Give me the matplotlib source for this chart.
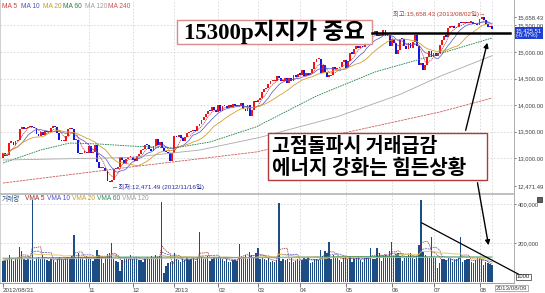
import matplotlib
matplotlib.use("Agg")
import matplotlib.pyplot as plt
import numpy as np
import pandas as pd
from matplotlib.patches import Rectangle, FancyArrowPatch
from matplotlib.lines import Line2D

plt.rcParams["font.family"] = ["Liberation Sans", "Noto Sans CJK KR"]

# daily closes, 2012/08/31 .. 2013/08/09 (one line per month)
close = [
    13091,
    13036, 13048, 13292, 13307, 13254, 13324, 13333, 13540, 13593, 13553, 13565, 13578, 13597, 13579, 13559, 13458, 13414, 13486, 13437,
    13515, 13482, 13495, 13575, 13610, 13584, 13474, 13345, 13327, 13329, 13424, 13551, 13558, 13548, 13344, 13346, 13103, 13078, 13104, 13107, 13096,
    13232, 13093, 13112, 13245, 12932, 12811, 12815, 12815, 12756, 12570, 12542, 12588, 12795, 12788, 12836, 13010, 12967, 12878, 12985, 13022, 13025,
    12965, 12951, 13034, 13074, 13155, 13169, 13248, 13245, 13171, 13135, 13235, 13351, 13251, 13311, 13190, 13139, 13114, 13096, 12938, 13104,
    13412, 13391, 13435, 13384, 13329, 13391, 13471, 13488, 13507, 13535, 13511, 13596, 13650, 13712, 13779, 13825, 13896, 13882, 13954, 13910, 13861,
    14009, 13880, 13979, 13986, 13944, 13993, 13971, 14019, 13982, 13973, 13981, 14035, 13927, 13880, 14000, 13784, 13900, 14075, 14054,
    14090, 14128, 14254, 14296, 14329, 14397, 14448, 14450, 14455, 14539, 14515, 14452, 14456, 14512, 14421, 14512, 14448, 14560, 14527, 14579,
    14573, 14662, 14551, 14606, 14565, 14613, 14673, 14802, 14865, 14865, 14599, 14757, 14619, 14537, 14548, 14567, 14719, 14676, 14701, 14712, 14818, 14840,
    14700, 14831, 14974, 14969, 15056, 15105, 15083, 15118, 15091, 15216, 15275, 15233, 15354, 15335, 15388, 15308, 15295, 15303, 15409, 15302, 15324, 15116,
    15254, 15177, 14961, 15041, 15248, 15239, 15122, 15050, 15176, 15071, 15180, 15318, 15112, 14758, 14800, 14660, 14760, 14910, 15024, 14910,
    14975, 14932, 14988, 15136, 15225, 15300, 15291, 15460, 15464, 15485, 15452, 15471, 15548, 15543, 15545, 15568, 15543, 15556, 15559, 15521, 15520, 15500,
    15628, 15658, 15612, 15519, 15471, 15498, 15426,
]

open_ = [
    13001,
    13091, 13036, 13048, 13292, 13307, 13254, 13324, 13333, 13540, 13593, 13553, 13565, 13578, 13597, 13579, 13559, 13458, 13414, 13486,
    13437, 13515, 13482, 13495, 13575, 13610, 13584, 13474, 13345, 13327, 13329, 13424, 13551, 13558, 13548, 13344, 13346, 13103, 13078, 13104, 13107,
    13096, 13232, 13093, 13112, 13245, 12932, 12811, 12815, 12815, 12756, 12570, 12542, 12588, 12795, 12788, 12836, 13010, 12967, 12878, 12985, 13022,
    13025, 12965, 12951, 13034, 13074, 13155, 13169, 13248, 13245, 13171, 13135, 13235, 13351, 13251, 13311, 13190, 13139, 13114, 13096, 12938,
    13104, 13412, 13391, 13435, 13384, 13329, 13391, 13471, 13488, 13507, 13535, 13511, 13596, 13650, 13712, 13779, 13825, 13896, 13882, 13954, 13910,
    13861, 14009, 13880, 13979, 13986, 13944, 13993, 13971, 14019, 13982, 13973, 13981, 14035, 13927, 13880, 14000, 13784, 13900, 14075,
    14054, 14090, 14128, 14254, 14296, 14329, 14397, 14448, 14450, 14455, 14539, 14515, 14452, 14456, 14512, 14421, 14512, 14448, 14560, 14527,
    14579, 14573, 14662, 14551, 14606, 14565, 14613, 14673, 14802, 14865, 14865, 14599, 14757, 14619, 14537, 14548, 14567, 14719, 14676, 14701, 14712, 14818,
    14840, 14700, 14831, 14974, 14969, 15056, 15105, 15083, 15118, 15091, 15216, 15275, 15233, 15354, 15335, 15388, 15308, 15295, 15303, 15409, 15302, 15324,
    15116, 15254, 15177, 14961, 15041, 15248, 15239, 15122, 15050, 15176, 15071, 15180, 15318, 15112, 14758, 14800, 14660, 14760, 14910, 15024,
    14910, 14975, 14932, 14988, 15136, 15225, 15300, 15291, 15460, 15464, 15485, 15452, 15471, 15548, 15543, 15545, 15568, 15543, 15556, 15559, 15521, 15520,
    15500, 15628, 15658, 15612, 15519, 15471, 15498,
]

# volume in thousands
volume_k = [
    110,
    115, 120, 138, 125, 110, 118, 122, 178, 160, 118, 112, 120, 115, 420, 108, 125, 130, 118, 140,
    118, 112, 110, 120, 115, 105, 120, 128, 118, 112, 125, 130, 120, 135, 240, 118, 150, 130, 125, 112, 135,
    125, 120, 110, 118, 165, 140, 130, 95, 128, 145, 150, 200, 118, 110, 105, 55, 115, 125, 130, 118, 140,
    118, 125, 130, 115, 112, 100, 125, 128, 120, 135, 120, 140, 128, 135, 410, 45, 80, 95, 100, 110,
    150, 120, 115, 100, 118, 112, 125, 115, 118, 122, 110, 128, 255, 130, 118, 125, 135, 110, 120, 130, 125,
    128, 122, 118, 110, 120, 105, 100, 112, 115, 108, 195, 118, 130, 140, 118, 155, 140, 125, 150,
    175, 118, 125, 120, 112, 122, 105, 110, 100, 115, 405, 110, 120, 112, 118, 105, 125, 100, 110, 118,
    110, 115, 125, 118, 130, 95, 105, 118, 120, 112, 165, 135, 160, 150, 205, 118, 140, 125, 122, 115, 105, 125,
    130, 118, 135, 100, 118, 122, 128, 112, 105, 125, 130, 128, 175, 118, 120, 175, 150, 110, 135, 140, 128, 160,
    205, 140, 145, 150, 135, 110, 125, 128, 140, 150, 125, 118, 135, 190, 420, 155, 140, 130, 125, 230,
    130, 125, 70, 95, 120, 118, 115, 125, 118, 105, 112, 118, 128, 230, 100, 115, 120, 118, 105, 95, 112, 130,
    125, 115, 85, 100, 95, 90, 85,
]

# long moving averages (day index, value)
ma60_idx = [0, 18, 32, 46, 61, 82, 99, 121, 150, 178, 210, 234]
ma60_val = [12906, 13151, 13283, 13264, 13226, 13189, 13302, 13585, 14170, 14623, 14981, 15264]
ma120_idx = [0, 61, 94, 123, 160, 190, 209, 234]
ma120_val = [12962, 13010, 13150, 13390, 13780, 14200, 14540, 14930]
ma240_idx = [0, 61, 121, 174, 209, 234]
ma240_val = [12528, 12830, 13113, 13566, 13868, 14132]
vma60_idx = [0, 60, 120, 180, 234]
vma60_val = [122, 128, 126, 130, 128]
vma120_idx = [0, 120, 234]
vma120_val = [118, 124, 126]

month_idx = [0, 41, 62, 82, 103, 122, 142, 164, 186, 206, 228]
month_lbl = ["2012/08/31", "11", "12", "2013", "02", "03", "04", "05", "06", "07", "08"]
price_ticks = [12471.49, 13000, 13500, 14000, 14500, 15000, 15500, 15658.43]
price_grid = [13000, 13500, 14000, 14500, 15000, 15500]

W, H = 545, 293
fig = plt.figure(figsize=(W / 100, H / 100), dpi=100)


def fx(px):
    return px / W


def fy(py):
    return 1 - py / H


ax = fig.add_axes([0, fy(193), fx(514), 193 / H])
axv = fig.add_axes([0, fy(283), fx(514), 89 / H])

x = np.arange(len(close))
o = np.array(open_, float)
c = np.array(close, float)
up = c >= o
lo = np.minimum(o, c)
hgt = np.maximum(np.abs(c - o), 22)

grid_kw = dict(color="#d6d6d6", lw=0.6, ls=(0, (2, 2)), zorder=0)
for lv in price_grid:
    ax.axhline(lv, **grid_kw)
for p in month_idx[1:] + [234]:
    ax.axvline(p, **grid_kw)
    axv.axvline(p, **grid_kw)
for lv in [200, 400]:
    axv.axhline(lv, **grid_kw)

ax.bar(x[up], hgt[up], bottom=lo[up], width=0.9, color="#f21414", linewidth=0)
ax.bar(x[~up], hgt[~up], bottom=lo[~up], width=0.9, color="#1414e6", linewidth=0)

s = pd.Series(c)
ax.plot(x, s.rolling(5, min_periods=1).mean(), color="#c83232", lw=0.5, ls=(0, (2, 1)))
ax.plot(x, s.rolling(10, min_periods=1).mean(), color="#5050c8", lw=0.5)
ax.plot(x, s.rolling(20, min_periods=1).mean(), color="#d2a028", lw=0.6)
ax.plot(ma60_idx, ma60_val, color="#1e8246", lw=0.6, ls=(0, (2, 1)))
ax.plot(ma120_idx, ma120_val, color="#a8a8a8", lw=0.6)
ax.plot(ma240_idx, ma240_val, color="#d25a5a", lw=0.6, ls=(0, (3, 1)))

ax.set_xlim(-1.44, 244.5)
ax.set_ylim(12340, 15981)
ax.yaxis.tick_right()
ax.set_yticks(price_ticks)
ax.set_yticklabels([f"{t:,.2f}" for t in price_ticks])
ax.tick_params(axis="x", bottom=False, labelbottom=False)
ax.tick_params(axis="y", length=1.5, width=0.5, pad=1, labelsize=4.2,
               colors="#404040")

v = np.array(volume_k, float)
axv.bar(x, v, width=0.62, color="#1d4d85", linewidth=0)
vs = pd.Series(v)
axv.plot(x, vs.rolling(5, min_periods=1).mean(), color="#a02828", lw=0.5, ls=(0, (2, 1)))
axv.plot(x, vs.rolling(10, min_periods=1).mean(), color="#5050d0", lw=0.5, ls=(0, (3, 1)))
axv.plot(x, vs.rolling(20, min_periods=1).mean(), color="#e0c050", lw=0.6)
axv.plot(vma60_idx, vma60_val, color="#2e8b57", lw=0.6)
axv.plot(vma120_idx, vma120_val, color="#b4b4b4", lw=0.6)
axv.set_xlim(-1.44, 244.5)
axv.set_ylim(-5.1, 451)
axv.yaxis.tick_right()
axv.set_yticks([200, 400])
axv.set_yticklabels(["200,000", "400,000"])
axv.tick_params(axis="y", length=1.5, width=0.5, pad=1, labelsize=4.2, colors="#404040")
axv.set_xticks(month_idx)
axv.set_xticklabels(month_lbl, ha="left")
axv.tick_params(axis="x", length=3, width=0.5, pad=0.5, labelsize=4.5, colors="#404040")

for a in (ax, axv):
    a.spines["top"].set_visible(a is axv)
    a.spines["top"].set_color("#b4b4b4")
    a.spines["left"].set_color("#c8c8c8")
    a.spines["right"].set_color("#a0a0a0")
    a.spines["bottom"].set_color("#909090" if a is axv else "#b4b4b4")
    for sp in a.spines.values():
        sp.set_linewidth(0.6)

# legends
ma_lbl = ["MA 5", "MA 10", "MA 20", "MA 60", "MA 120", "MA 240"]
ma_col = ["#d04040", "#5050c0", "#c89a20", "#1e8246", "#a0a0a0", "#d05050"]
ma_px = [2, 21, 43, 63, 85, 108]
for t, col, px in zip(ma_lbl, ma_col, ma_px):
    fig.text(fx(px), fy(6), t, color=col, fontsize=4.8, va="center")
vma_lbl = ["거래량", "VMA 5", "VMA 10", "VMA 20", "VMA 60", "VMA 120"]
vma_col = ["#2a4a7a", "#a02828", "#5050d0", "#c8a030", "#2e8b57", "#a0a0a0"]
vma_px = [2, 25, 47, 72, 97, 122]
for t, col, px in zip(vma_lbl, vma_col, vma_px):
    fig.text(fx(px), fy(199), t, color=col, fontsize=4.8, va="center")

# high / low notes
fig.text(fx(393), fy(14), "최고:15,658.43 (2013/08/02일)→", color="#c0392b",
         fontsize=4.6, va="center")
fig.text(fx(112), fy(187), "←최저:12,471.49 (2012/11/16일)", color="#2c2ca0",
         fontsize=4.6, va="center")

# current price box
fig.text(fx(516), fy(33), "15,425.51\n(-0.47%)", color="white", fontsize=4.2,
         va="center", ha="left", linespacing=1.0,
         bbox=dict(boxstyle="square,pad=0.2", fc="#1f3fd6", ec="none"))
fig.text(fx(517), fy(277), "1000", color="#202020", fontsize=4.2, va="center",
         bbox=dict(boxstyle="square,pad=0.15", fc="white", ec="#303030", lw=0.5))
fig.text(fx(496), fy(288), "2013/08/09", color="#404040", fontsize=4.5, va="center",
         bbox=dict(boxstyle="square,pad=0.15", fc="white", ec="#909090", lw=0.5))
fig.add_artist(Rectangle((fx(537), fy(202)), fx(5), 5 / H, transform=fig.transFigure,
                         fc="#606060", ec="#202020", lw=0.5))

# comment boxes
fig.add_artist(Rectangle((fx(177), fy(44)), fx(195), 24 / H, transform=fig.transFigure,
                         fc="white", ec="#d98c8c", lw=1))
fig.text(fx(274), fy(32), "15300p지지가 중요", ha="center", va="center", fontsize=16.5,
         fontweight="bold", family=["Liberation Serif", "Noto Sans CJK KR"])
fig.add_artist(Rectangle((fx(268), fy(180)), fx(219), 47 / H, transform=fig.transFigure,
                         fc="white", ec="#b03a3a", lw=1))
fig.text(fx(272), fy(147), "고점돌파시 거래급감", ha="left", va="center", fontsize=14,
         fontweight="bold", family=["Noto Sans CJK KR"])
fig.text(fx(272), fy(167), "에너지 강화는 힘든상황", ha="left", va="center", fontsize=14.5,
         fontweight="bold", family=["Noto Sans CJK KR"])

# support line and arrows
fig.add_artist(Line2D([fx(372), fx(510)], [fy(33), fy(33)], color="black", lw=1.8,
                      transform=fig.transFigure))
for (x0, y0), (x1, y1) in [((465, 133), (488, 40)), ((477, 180), (489, 248))]:
    fig.add_artist(FancyArrowPatch((fx(x0), fy(y0)), (fx(x1), fy(y1)),
                                   transform=fig.transFigure, arrowstyle="-|>",
                                   mutation_scale=7, lw=1, color="black"))
fig.add_artist(Line2D([fx(422), fx(520)], [fy(223), fy(275)], color="black", lw=0.9,
                      transform=fig.transFigure))

fig.savefig("out.png", dpi=100)
